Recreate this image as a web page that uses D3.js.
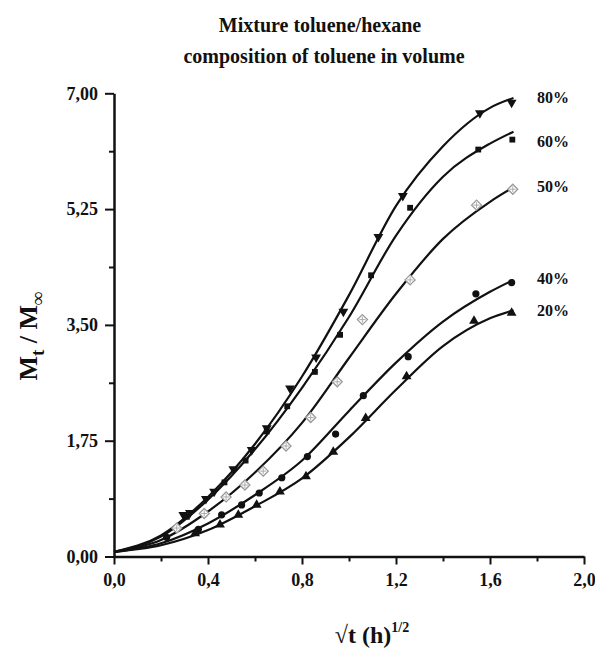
<!DOCTYPE html>
<html>
<head>
<meta charset="utf-8">
<script src="https://cdn.jsdelivr.net/npm/d3@7"></script>
<style>
  body { margin: 0; background: #fff; }
  text { font-family: "Liberation Serif", "DejaVu Serif", serif; font-weight: bold; fill: #111; }
</style>
</head>
<body>
<svg id="chart" width="595" height="651"></svg>
<script>
// measured points, one pair of arrays per series
const x80 = [0.295, 0.323, 0.391, 0.426, 0.508, 0.586, 0.650, 0.749, 0.860, 0.976, 1.125, 1.229, 1.557, 1.692];
const y80 = [0.63, 0.66, 0.87, 0.98, 1.32, 1.61, 1.94, 2.54, 3.01, 3.70, 4.83, 5.45, 6.70, 6.86];

const x60 = [0.31, 0.47, 0.56, 0.650, 0.737, 0.855, 0.962, 1.094, 1.260, 1.550, 1.695];
const y60 = [0.60, 1.12, 1.45, 1.89, 2.27, 2.79, 3.35, 4.25, 5.27, 6.15, 6.30];

const x50 = [0.267, 0.384, 0.477, 0.557, 0.635, 0.732, 0.837, 0.950, 1.057, 1.260, 1.543, 1.697];
const y50 = [0.43, 0.65, 0.90, 1.08, 1.29, 1.67, 2.10, 2.64, 3.58, 4.18, 5.31, 5.55];

const x40 = [0.224, 0.359, 0.458, 0.543, 0.618, 0.714, 0.823, 0.943, 1.061, 1.252, 1.540, 1.692];
const y40 = [0.29, 0.41, 0.63, 0.78, 0.96, 1.19, 1.51, 1.85, 2.43, 3.02, 3.97, 4.14];

const x20 = [0.345, 0.451, 0.529, 0.607, 0.706, 0.817, 0.933, 1.071, 1.245, 1.532, 1.692];
const y20 = [0.35, 0.48, 0.63, 0.78, 0.98, 1.21, 1.58, 2.09, 2.72, 3.56, 3.68];

// fitted curves
const fitX = [0, 0.2, 0.4, 0.6, 0.8, 1.0, 1.2, 1.4, 1.6, 1.7];
const fit80 = [0.07, 0.32, 0.90, 1.70, 2.72, 3.95, 5.30, 6.20, 6.78, 6.93];
const fit60 = [0.07, 0.30, 0.86, 1.62, 2.55, 3.62, 4.85, 5.74, 6.24, 6.42];
const fit50 = [0.07, 0.25, 0.68, 1.27, 2.02, 3.00, 3.97, 4.80, 5.36, 5.58];
const fit40 = [0.07, 0.20, 0.50, 0.93, 1.45, 2.20, 2.93, 3.55, 4.00, 4.18];
const fit20 = [0.07, 0.17, 0.40, 0.76, 1.18, 1.80, 2.52, 3.18, 3.60, 3.72];

const seriesLabels = ["80%", "60%", "50%", "40%", "20%"];
const xTicks = [0, 0.4, 0.8, 1.2, 1.6, 2.0];
const xMinor = [0.2, 0.6, 1.0, 1.4, 1.8];
const yTicks = [0, 1.75, 3.5, 5.25, 7.0];
const yMinor = [0.875, 2.625, 4.375, 6.125];

let svg = d3.select("#chart");

let xScale = d3.scaleLinear().domain([0, 2]).range([114, 584]);
let yScale = d3.scaleLinear().domain([0, 7]).range([556.5, 93.3]);

let comma = f => (v => d3.format(f)(v).replace(".", ","));

// axes
let xAxis = d3.axisBottom(xScale).tickValues(xTicks).tickSize(8).tickSizeOuter(0)
    .tickPadding(9).tickFormat(comma(".1f"));
svg.append("g").attr("transform", "translate(0," + yScale(0) + ")").call(xAxis);
svg.append("g").attr("transform", "translate(0," + yScale(0) + ")")
    .call(d3.axisBottom(xScale).tickValues(xMinor).tickSize(5).tickFormat(""))
    .select(".domain").remove();

let yAxis = d3.axisLeft(yScale).tickValues(yTicks).tickSize(9).tickSizeOuter(0)
    .tickPadding(7).tickFormat(comma(".2f"));
svg.append("g").attr("transform", "translate(" + xScale(0) + ",0)").call(yAxis);
svg.append("g").attr("transform", "translate(" + xScale(0) + ",0)")
    .call(d3.axisLeft(yScale).tickValues(yMinor).tickSize(5).tickFormat(""))
    .select(".domain").remove();

svg.selectAll(".domain").attr("stroke", "#111").attr("stroke-width", 2.5);
svg.selectAll(".tick line").attr("stroke", "#111").attr("stroke-width", 2);
svg.selectAll(".tick text").style("font-family", "Liberation Serif, serif")
    .style("font-weight", "bold").style("font-size", "18px").attr("fill", "#111");

// curves
let line = d3.line()
    .x(d => xScale(d[0]))
    .y(d => yScale(d[1]))
    .curve(d3.curveMonotoneX);

[fit80, fit60, fit50, fit40, fit20].forEach(function (fit) {
    svg.append("path")
        .datum(fitX.map((x, i) => [x, fit[i]]))
        .attr("d", line)
        .attr("fill", "none")
        .attr("stroke", "#111")
        .attr("stroke-width", 2.2);
});

// markers
function pts(xs, ys) { return xs.map((x, i) => [x, ys[i]]); }

svg.append("g").selectAll("path").data(pts(x80, y80)).enter().append("path")
    .attr("d", d3.symbol(d3.symbolTriangle, 42))
    .attr("transform", d => "translate(" + xScale(d[0]) + "," + yScale(d[1]) + ") rotate(180)")
    .attr("fill", "#111");

svg.append("g").selectAll("path").data(pts(x60, y60)).enter().append("path")
    .attr("d", d3.symbol(d3.symbolSquare, 34))
    .attr("transform", d => "translate(" + xScale(d[0]) + "," + yScale(d[1]) + ")")
    .attr("fill", "#111");

let dia = svg.append("g").selectAll("g").data(pts(x50, y50)).enter().append("g")
    .attr("transform", d => "translate(" + xScale(d[0]) + "," + yScale(d[1]) + ")");
dia.append("path").attr("d", "M0,-5L5,0L0,5L-5,0Z")
    .attr("fill", "#fff").attr("stroke", "#999").attr("stroke-width", 1.3);
dia.append("path").attr("d", "M-3,0H3M0,-3V3")
    .attr("stroke", "#aaa").attr("stroke-width", 1);

svg.append("g").selectAll("circle").data(pts(x40, y40)).enter().append("circle")
    .attr("cx", d => xScale(d[0]))
    .attr("cy", d => yScale(d[1]))
    .attr("r", 3.6)
    .attr("fill", "#111");

svg.append("g").selectAll("path").data(pts(x20, y20)).enter().append("path")
    .attr("d", d3.symbol(d3.symbolTriangle, 42))
    .attr("transform", d => "translate(" + xScale(d[0]) + "," + yScale(d[1]) + ")")
    .attr("fill", "#111");

// series labels
let labelY = [98, 142, 187, 279, 311];
svg.append("g").selectAll("text").data(seriesLabels).enter().append("text")
    .attr("x", 537)
    .attr("y", (d, i) => labelY[i] + 5)
    .style("font-size", "16px")
    .text(d => d);

// title
svg.append("text").attr("x", 320).attr("y", 32).attr("text-anchor", "middle")
    .style("font-size", "20px").text("Mixture toluene/hexane");
svg.append("text").attr("x", 324).attr("y", 63).attr("text-anchor", "middle")
    .style("font-size", "20px").text("composition of toluene in volume");

// axis titles
let xt = svg.append("text").attr("x", 372).attr("y", 643).attr("text-anchor", "middle")
    .style("font-size", "24px");
xt.append("tspan").text("\u221At (h)");
xt.append("tspan").attr("dy", -11).style("font-size", "14px").text("1/2");

let yt = svg.append("text")
    .attr("transform", "translate(37,336) rotate(-90)")
    .attr("text-anchor", "middle")
    .style("font-size", "26px");
yt.append("tspan").text("M");
yt.append("tspan").attr("dy", 7).style("font-size", "19px").text("t");
yt.append("tspan").attr("dy", -7).text(" / M");
yt.append("tspan").attr("dy", 7).style("font-size", "19px").text("\u221E");
</script>
</body>
</html>
